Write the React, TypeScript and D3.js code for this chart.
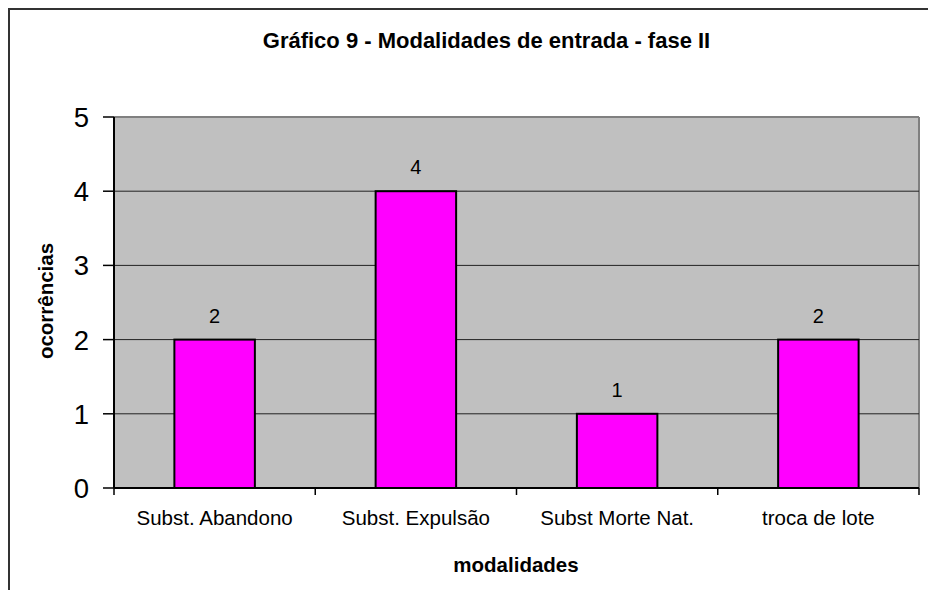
import React from "react";
import * as d3 from "d3";

const categories: string[] = ["Subst. Abandono", "Subst. Expulsão", "Subst Morte Nat.", "troca de lote"];
const values: number[] = [2, 4, 1, 2];
const yTicks: number[] = [0, 1, 2, 3, 4, 5];
const titleText = "Gráfico 9 - Modalidades de entrada - fase II";
const xTitle = "modalidades";
const yTitle = "ocorrências";

const FONT = "'Liberation Sans', Arial, Helvetica, sans-serif";

export default function App() {
  const W = 928;
  const H = 590;
  const left = 114;
  const right = 919;
  const top = 117;
  const bottom = 488;

  const x = d3.scaleBand<string>().domain(categories).range([left, right]).paddingInner(0.6).paddingOuter(0.3);
  const y = d3.scaleLinear().domain([0, 5]).range([bottom, top]);
  const step = x.step();
  const boundaries = d3.range(categories.length + 1).map((i) => left + i * step);

  return (
    <svg
      width={W}
      height={H}
      style={{ position: "absolute", left: 0, top: 0, background: "#fff" }}
      fontFamily={FONT}
    >
      <rect x={0} y={0} width={W} height={H} fill="#fff" />
      {/* outer chart border */}
      <rect x={9} y={9} width={1000} height={1000} fill="none" stroke="#333" strokeWidth={2} />

      {/* title */}
      <text x={486.5} y={48} textAnchor="middle" fontSize={22} fontWeight="bold" fill="#000">
        {titleText}
      </text>

      {/* plot area */}
      <rect x={left} y={top} width={right - left} height={bottom - top} fill="#C0C0C0" />
      <line x1={left} x2={right} y1={top} y2={top} stroke="#808080" strokeWidth={2} />
      <line x1={right} x2={right} y1={top} y2={bottom} stroke="#808080" strokeWidth={2} />

      {/* gridlines */}
      {yTicks
        .filter((t) => t !== 0 && t !== 5)
        .map((t) => (
          <line key={"g" + t} x1={left} x2={right} y1={y(t)} y2={y(t)} stroke="#222" strokeWidth={1} />
        ))}

      {/* bars */}
      {categories.map((c, i) => (
        <rect
          key={c}
          x={x(c)}
          y={y(values[i])}
          width={x.bandwidth()}
          height={y(0) - y(values[i])}
          fill="#FF00FF"
          stroke="#000"
          strokeWidth={2}
        />
      ))}

      {/* value labels */}
      {categories.map((c, i) => (
        <text
          key={"v" + c}
          x={(x(c) as number) + x.bandwidth() / 2}
          y={y(values[i]) - 17}
          textAnchor="middle"
          fontSize={20}
          fill="#000"
        >
          {values[i]}
        </text>
      ))}

      {/* y axis */}
      <line x1={left} x2={left} y1={top} y2={bottom} stroke="#000" strokeWidth={2} />
      {yTicks.map((t) => (
        <g key={"yt" + t}>
          <line x1={103} x2={left} y1={y(t)} y2={y(t)} stroke="#000" strokeWidth={1.5} />
          <text x={89} y={y(t) + 10} textAnchor="end" fontSize={27.5} fill="#000">
            {t}
          </text>
        </g>
      ))}

      {/* x axis */}
      <line x1={left} x2={right} y1={bottom} y2={bottom} stroke="#000" strokeWidth={2} />
      {boundaries.map((b, i) => (
        <line key={"xt" + i} x1={b} x2={b} y1={bottom} y2={bottom + 7} stroke="#000" strokeWidth={1.5} />
      ))}
      {categories.map((c) => (
        <text
          key={"xl" + c}
          x={(x(c) as number) + x.bandwidth() / 2}
          y={525}
          textAnchor="middle"
          fontSize={20.5}
          fill="#000"
        >
          {c}
        </text>
      ))}

      {/* axis titles */}
      <text x={516} y={572} textAnchor="middle" fontSize={20.5} fontWeight="bold" fill="#000">
        {xTitle}
      </text>
      <text
        transform={`translate(53, 301) rotate(-90)`}
        textAnchor="middle"
        fontSize={20.5}
        fontWeight="bold"
        fill="#000"
      >
        {yTitle}
      </text>
    </svg>
  );
}
